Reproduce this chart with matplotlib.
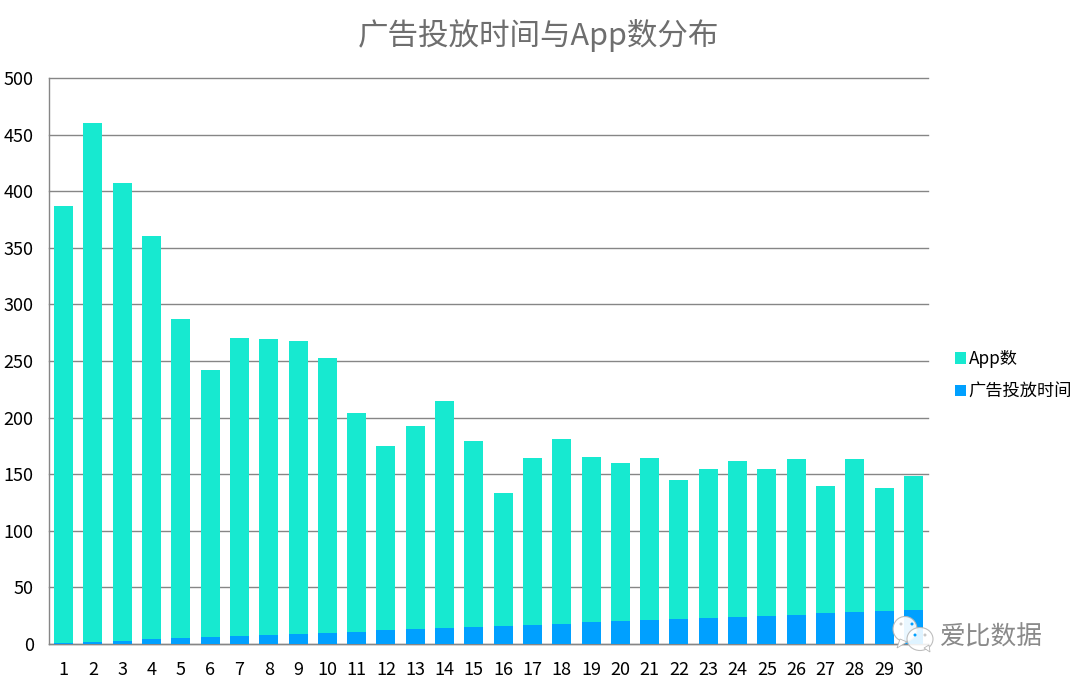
import matplotlib
matplotlib.use("Agg")
import matplotlib.pyplot as plt
from matplotlib.patches import Ellipse, Polygon

plt.rcParams["font.family"] = ["Noto Sans CJK SC", "DejaVu Sans"]

days = list(range(1, 31))
ad_time = [1, 2, 3, 4, 5, 6, 7, 8, 9, 10, 11, 12, 13, 14, 15,
           16, 17, 18, 19, 20, 21, 22, 23, 24, 25, 26, 27, 28, 29, 30]
app_count = [386, 458, 404, 356, 282, 236, 263, 261, 259, 243, 193, 163, 180, 201, 164,
             117, 147, 163, 146, 140, 143, 123, 132, 138, 130, 137, 113, 135, 109, 118]
y_ticks = [0, 50, 100, 150, 200, 250, 300, 350, 400, 450, 500]

W, H = 1078, 682
GREY = "#868686"
TEAL = "#17E9D0"
BLUE = "#00A0FF"

fig = plt.figure(figsize=(W / 100, H / 100), dpi=100, facecolor="white")
ax = fig.add_axes([49 / W, 1 - 644 / H, 879 / W, 566 / H])


def px(x, y):
    # figure pixels (top-left origin) to figure fraction
    return x / W, 1 - y / H


ax.bar(days, ad_time, width=0.65, color=BLUE, label="广告投放时间", zorder=3)
ax.bar(days, app_count, width=0.65, bottom=ad_time, color=TEAL, label="App数", zorder=3)

ax.set_xlim(0.5, 30.5)
ax.set_ylim(0, 500)
ax.set_xticks(days)
ax.set_yticks(y_ticks)
ax.tick_params(axis="both", length=0, labelsize=13, colors="black")
ax.tick_params(axis="x", pad=12)
ax.tick_params(axis="y", pad=11)
ax.grid(axis="y", color=GREY, linewidth=1, zorder=1)
for line in ax.get_ygridlines():
    line.set_clip_on(False)
for side in ["top", "right"]:
    ax.spines[side].set_visible(False)
for side in ["left", "bottom"]:
    ax.spines[side].set_color(GREY)
    ax.spines[side].set_linewidth(1)

fig.text(*px(538, 35), "广告投放时间与App数分布", fontsize=22, color="#6E6E6E",
         ha="center", va="center")

handles, labels = ax.get_legend_handles_labels()
ax.legend(handles[::-1], labels[::-1], loc="center left", frameon=False, fontsize=12.4,
          bbox_to_anchor=(955 / W, 1 - 375.5 / H), bbox_transform=fig.transFigure,
          handlelength=0.64, handleheight=0.64, handletextpad=0.15, labelspacing=0.85,
          borderpad=0, borderaxespad=0)

# watermark
for cx, cy, w, h, a in [(905, 629, 24, 25, 0.92), (920, 639, 26, 23, 0.88)]:
    fig.add_artist(Ellipse(px(cx, cy), w / W, h / H, facecolor="white", edgecolor="#B5B5B5",
                           linewidth=0.8, alpha=a, transform=fig.transFigure, zorder=5))
fig.add_artist(Polygon([px(900, 639), px(897, 648), px(907, 642)], closed=True, facecolor="white",
                       edgecolor="#B5B5B5", linewidth=0.6, transform=fig.transFigure, zorder=5))
fig.add_artist(Polygon([px(924, 648), px(930, 652), px(929, 645)], closed=True, facecolor="white",
                       edgecolor="#B5B5B5", linewidth=0.6, transform=fig.transFigure, zorder=5))
for cx, cy, c in [(901, 624, "#C8C8C8"), (912, 624, BLUE), (915, 635, BLUE), (925, 635, "#C8C8C8")]:
    fig.add_artist(Ellipse(px(cx, cy), 3 / W, 3 / H, facecolor=c, edgecolor="none",
                           transform=fig.transFigure, zorder=6))
fig.text(*px(991.5, 638), "爱比数据", fontsize=18.5, color="#8A8A8A", ha="center", va="center", zorder=6)

fig.savefig("out.png", dpi=100)
plt.close(fig)
